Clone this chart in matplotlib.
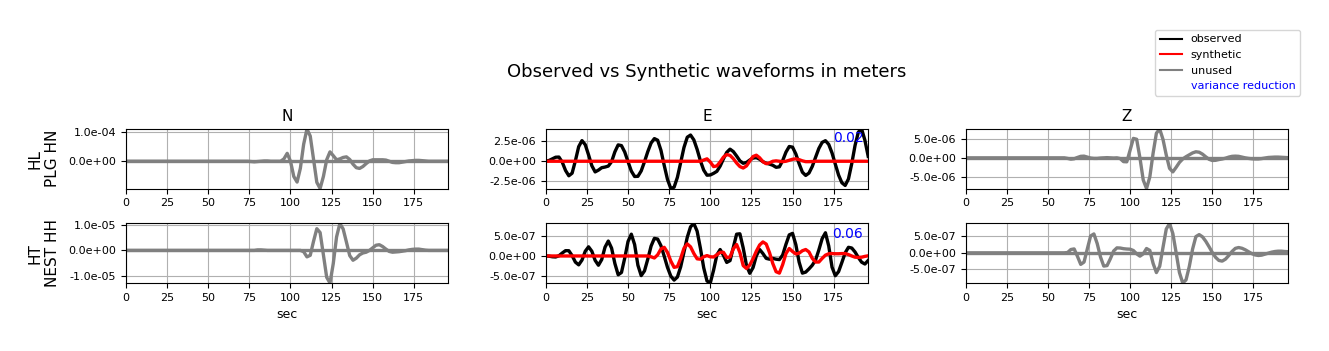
import numpy as np
import matplotlib
matplotlib.use("Agg")
import matplotlib.pyplot as plt
from matplotlib.lines import Line2D
from matplotlib.ticker import MaxNLocator, FormatStrFormatter

# ---------------- data ----------------
# sample times (s)
t = np.arange(0, 198, 2)

components = ["N", "E", "Z"]
stations = ["HL\nPLG HN", "HT\nNEST HH"]
used = [[False, True, False], [False, True, False]]
var_red = [[None, "0.02", None], [None, "0.06", None]]

# HL PLG HN, N component (x1e-4 m)
obs_HL_N = [0, 0, 0, 0, 0, 0, 0, 0, 0, 0,
            0, 0, 0, 0, 0, 0, 0, 0, 0, 0,
            0, 0, 0, 0, 0, 0, 0, 0, 0, 0,
            0, 0, 0, 0, 0, 0, 0, 0, -0.01, -0.02,
            -0.01, 0.0, 0.01, 0.01, 0.0, 0.0, 0.0, 0.0, 0.08, 0.27,
            0.0, -0.52, -0.71, -0.24, 0.58, 1.10, 0.86, 0.07, -0.72, -0.93,
            -0.52, 0.05, 0.32, 0.19, 0.05, 0.08, 0.13, 0.15, 0.06, -0.10,
            -0.22, -0.245, -0.18, -0.08, 0.01, 0.05, 0.05, 0.05, 0.05, 0.04,
            0.0, -0.04, -0.05, -0.05, -0.03, -0.01, 0.01, 0.02, 0.03, 0.03,
            0.02, 0.01, 0.0, 0.0, 0.0, 0.0, 0.0, 0.0, 0.0]
syn_HL_N = [0.0] * 99

# HT NEST HH, N component (x1e-5 m)
obs_HT_N = [0, 0, 0, 0, 0, 0, 0, 0, 0, 0,
            0, 0, 0, 0, 0, 0, 0, 0, 0, 0,
            0, 0, 0, 0, 0, 0, 0, 0, 0, 0,
            0, 0, 0, 0, 0, 0, 0, 0, 0, 0,
            0.02, 0.02, 0.01, 0, 0, 0, 0, 0, 0, 0,
            0, 0, 0, 0, -0.05, -0.25, -0.19, 0.35, 0.84, 0.69,
            -0.17, -1.04, -1.26, -0.51, 0.52, 1.04, 0.83, 0.32, -0.2, -0.38,
            -0.3, -0.17, -0.1, -0.07, 0.0, 0.1, 0.2, 0.22, 0.15, 0.05,
            -0.04, -0.07, -0.06, -0.05, -0.03, -0.01, 0.02, 0.04, 0.05, 0.05,
            0.03, 0.01, 0, 0, 0, 0, 0, 0, 0]
syn_HT_N = [0.0] * 99

# HL PLG HN, E component (x1e-6 m)
obs_HL_E = [0.0, 0.1, 0.3, 0.5, 0.52, -0.11, -1.14, -1.8, -1.48, 0.07,
            1.81, 2.56, 2.05, 0.79, -0.56, -1.32, -1.1, -0.8, -0.72, -0.6,
            -0.05, 1.17, 2.03, 1.94, 1.14, -0.06, -1.22, -1.89, -1.87, -1.2,
            -0.06, 1.19, 2.26, 2.81, 2.61, 1.36, -0.52, -2.27, -3.38, -3.22,
            -2.0, -0.16, 1.71, 2.98, 3.25, 2.65, 1.47, 0.05, -1.1, -1.73,
            -1.7, -1.5, -1.25, -0.6, 0.3, 1.1, 1.5, 1.2, 0.65, 0.05,
            -0.25, -0.15, 0.15, 0.4, 0.45, 0.25, -0.05, -0.25, -0.35, -0.5,
            -0.75, -0.69, 0.08, 1.13, 1.83, 1.75, 0.91, -0.3, -1.36, -1.76,
            -1.46, -0.64, 0.49, 1.59, 2.34, 2.55, 2.09, 1.03, -0.36, -1.72,
            -2.67, -3.0, -2.19, -0.29, 1.96, 3.61, 4.0, 2.6, 0.6]
syn_HL_E = [0, 0, 0, 0, 0, 0, 0, 0, 0, 0,
            0, 0, 0, 0, 0, 0, 0, 0, 0, 0,
            0, 0, 0, 0, 0, 0, 0, 0, 0, 0,
            0, 0, 0, 0, 0, 0, 0, 0, 0, 0,
            0, 0, 0, 0, 0, 0, 0, 0, 0.15, 0.3,
            -0.1, -0.66, -0.58, -0.08, 0.51, 0.83, 0.73, 0.32, -0.22, -0.66,
            -0.84, -0.58, 0.02, 0.59, 0.75, 0.43, -0.06, -0.3, -0.2, 0.0,
            0.05, 0.0, -0.05, 0.0, 0.12, 0.25, 0.3, 0.2, 0.05, -0.05,
            -0.05, -0.03, 0, 0, 0, 0, 0, 0, 0, 0,
            0, 0, 0, 0, 0, 0, 0, 0, 0]

# HT NEST HH, E component (x1e-7 m)
obs_HT_E = [0, -0.05, -0.2, -0.25, 0.05, 0.73, 1.32, 1.3, 0.09, -1.53,
            -2.2, -1.02, 1.18, 2.27, 1.17, -1.09, -2.3, -0.89, 2.17, 3.7,
            1.94, -1.87, -4.66, -4.1, -0.51, 3.6, 5.4, 2.83, -2.3, -4.87,
            -3.7, -0.79, 2.44, 4.36, 4.19, 2.56, -0.07, -2.85, -5.0, -5.98,
            -5.23, -2.69, 0.96, 4.62, 7.23, 8.05, 6.14, 1.9, -2.93, -6.2,
            -6.7, -3.52, 0.26, 1.6, 0.16, -1.6, -1.15, 2.11, 5.4, 5.5,
            2.0, -2.33, -4.3, -2.88, 0.04, 1.6, 0.6, -0.6, -0.8, -0.6,
            -0.8, -0.9, 0.24, 2.89, 5.23, 5.6, 2.82, -1.52, -4.25, -4.0,
            -3.2, -2.3, -1.0, 1.5, 4.3, 5.75, 2.48, -2.76, -4.9, -3.87,
            -1.6, 0.78, 2.15, 1.97, 0.98, -0.38, -1.54, -2.0, -1.1]
syn_HT_E = [0, 0, 0, 0, 0, 0, 0, 0, 0, 0,
            0, 0, 0, 0, 0, 0, 0, 0, 0, 0,
            0, 0, 0, 0, 0, 0, 0, 0, 0, 0,
            0, 0, -0.2, -0.5, 0.28, 1.73, 2.15, 0.87, -1.26, -2.82,
            -2.65, -0.6, 1.9, 3.0, 2.26, 0.62, -0.71, -0.8, -0.2, 0.1,
            -0.2, -0.25, 0.3, 0.9, 0.9, -0.4, -0.24, 1.77, 2.85, 0.85,
            -2.38, -3.1, -2.26, -0.69, 1.19, 2.73, 3.48, 2.95, 0.83, -1.88,
            -3.9, -4.25, -2.15, 0.59, 1.85, 1.1, 0.5, 0.7, 1.3, 1.6,
            1.0, -0.6, -1.5, -1.5, -0.6, 0.2, 0.55, 0.6, 0.55, 0.55,
            0.6, 0.6, 0.35, 0.0, -0.3, -0.35, -0.3, -0.1, 0.05]

# HL PLG HN, Z component (x1e-6 m)
obs_HL_Z = [0, 0, 0, 0, 0, 0, 0, 0, 0, 0,
            0, 0, 0, 0, 0, 0, 0, 0, 0, 0,
            0, 0, 0, 0, 0, 0, 0, 0, 0, 0,
            0, -0.15, -0.35, -0.25, 0.1, 0.4, 0.45, 0.2, -0.05, -0.15,
            -0.15, -0.05, 0.0, 0.05, 0.0, -0.05, 0.0, -0.2, -1.0, -1.05,
            2.0, 5.12, 4.9, -0.02, -5.85, -8.08, -5.04, 1.24, 6.5, 7.6,
            4.88, 0.73, -2.78, -3.7, -2.5, -1.2, -0.3, 0.3, 0.8, 1.3,
            1.6, 1.48, 0.98, 0.27, -0.38, -0.7, -0.65, -0.45, -0.3, -0.1,
            0.2, 0.4, 0.45, 0.4, 0.2, 0.0, -0.15, -0.25, -0.3, -0.3,
            -0.2, -0.05, 0.1, 0.15, 0.2, 0.2, 0.15, 0.1, 0.05]
syn_HL_Z = [0.0] * 99

# HT NEST HH, Z component (x1e-7 m)
obs_HT_Z = [0, 0, 0, 0, 0, 0, 0, 0, 0, 0,
            0, 0, 0, 0, 0, 0, 0, 0, 0, 0,
            0, 0, 0, 0, 0, 0, 0, 0, 0, 0,
            0, 0.1, 1.0, 1.18, -1.05, -3.48, -2.79, 1.17, 5.09, 5.7,
            2.82, -1.22, -4.0, -3.85, -1.8, 0.55, 1.5, 1.45, 1.25, 1.15,
            1.1, 0.7, -0.3, -1.0, -0.3, 1.3, 0.73, -3.19, -5.95, -4.06,
            1.6, 7.19, 8.85, 5.82, 0.03, -5.94, -9.1, -8.17, -4.11, 1.13,
            4.89, 5.5, 4.83, 3.5, 1.85, 0.1, -1.37, -2.3, -2.5, -1.9,
            -0.8, 0.43, 1.35, 1.6, 1.38, 0.93, 0.34, -0.24, -0.64, -0.8,
            -0.7, -0.4, -0.1, 0.2, 0.4, 0.5, 0.5, 0.4, 0.35]
syn_HT_Z = [0.0] * 99

units = [[1e-4, 1e-6, 1e-6], [1e-5, 1e-7, 1e-7]]
obs = [[obs_HL_N, obs_HL_E, obs_HL_Z], [obs_HT_N, obs_HT_E, obs_HT_Z]]
syn = [[syn_HL_N, syn_HL_E, syn_HL_Z], [syn_HT_N, syn_HT_E, syn_HT_Z]]

xticks = [0, 25, 50, 75, 100, 125, 150, 175]

# ---------------- plot ----------------
fig = plt.figure(figsize=(13.29, 3.51), dpi=100)
axes = fig.subplots(2, 3)
fig.subplots_adjust(left=126 / 1329, right=1288 / 1329,
                    bottom=1 - 283 / 351, top=1 - 129 / 351,
                    wspace=0.302, hspace=0.588)

LW = 2.4
for i in range(2):
    for j in range(3):
        ax = axes[i, j]
        o = np.asarray(obs[i][j]) * units[i][j]
        s = np.asarray(syn[i][j]) * units[i][j]
        if used[i][j]:
            ax.plot(t, o, color="black", lw=LW)
            ax.plot(t, s, color="red", lw=LW)
        else:
            ax.plot(t, o, color="gray", lw=LW)
            ax.plot(t, s, color="gray", lw=LW)
        lo = min(o.min(), s.min())
        hi = max(o.max(), s.max())
        ax.set_ylim(lo, hi)
        ax.set_xlim(t[0], t[-1])
        ax.set_xticks(xticks)
        ax.yaxis.set_major_locator(MaxNLocator(nbins=4, steps=[1, 2.5, 5, 10]))
        ax.yaxis.set_major_formatter(FormatStrFormatter("%.1e"))
        ax.tick_params(labelsize=8)
        ax.grid(True)
        if var_red[i][j] is not None:
            ax.text(0.985, 0.85 if i == 0 else 0.825, var_red[i][j],
                    transform=ax.transAxes, ha="right", va="center",
                    color="blue", fontsize=10)
        if i == 0:
            ax.set_title(components[j], fontsize=11)
        if i == 1:
            ax.set_xlabel("sec", fontsize=9)
        if j == 0:
            ax.set_ylabel(stations[i], fontsize=11)
            ax.yaxis.set_label_coords(-0.205, 0.5)

fig.text(707 / 1329, 1 - 72 / 351, "Observed vs Synthetic waveforms in meters",
         ha="center", va="center", fontsize=13)

handles = [Line2D([], [], color="black", lw=1.5),
           Line2D([], [], color="red", lw=1.5),
           Line2D([], [], color="gray", lw=1.5),
           Line2D([], [], color="none", lw=1.5)]
labels = ["observed", "synthetic", "unused", "variance reduction"]
leg = fig.legend(handles, labels, loc="upper right",
                 bbox_to_anchor=(1300 / 1329, 1 - 30 / 351),
                 fontsize=8, borderaxespad=0)
leg.get_texts()[3].set_color("blue")

fig.savefig("out.png", dpi=100)
